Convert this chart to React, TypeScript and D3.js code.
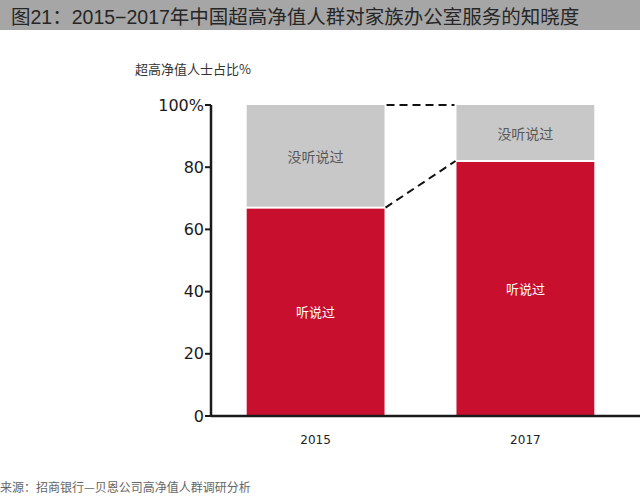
import React from "react";
import * as d3 from "d3";

const years: string[] = ["2015", "2017"];
const heard: number[] = [67, 82];
const notHeard: number[] = [33, 18];
const yTicks: number[] = [0, 20, 40, 60, 80, 100];

const title = "图21：2015−2017年中国超高净值人群对家族办公室服务的知晓度";
const yLabel = "超高净值人士占比%";
const heardLabel = "听说过";
const notHeardLabel = "没听说过";
const source = "来源：招商银行—贝恩公司高净值人群调研分析";

const W = 640;
const H = 496;
const axisX = 211;

const cjk = "'Noto Sans CJK SC', 'Noto Sans', sans-serif";
const latin = "'Liberation Sans', 'Noto Sans CJK SC', sans-serif";
const tickFont = "'DejaVu Sans', 'Noto Sans', sans-serif";

const App = () => {
  const x = d3
    .scaleBand<string>()
    .domain(years)
    .range([246.7, 594.3])
    .paddingInner(0.343)
    .paddingOuter(0);
  const y = d3.scaleLinear().domain([0, 100]).range([416, 105]);
  const bw = x.bandwidth();

  const red = "#c8102e";
  const gray = "#c8c8c8";

  // connector lines between the two bars
  const x1 = (x(years[0]) as number) + bw;
  const x2 = x(years[1]) as number;

  return (
    <svg
      width={W}
      height={H}
      style={{ position: "absolute", left: 0, top: 0, background: "#fff" }}
    >
      <rect x={0} y={0} width={W} height={30} fill="#a6a6a6" />
      <text
        x={11}
        y={23.5}
        fontSize={19.5}
        fill="#262626"
        fontFamily={latin}
      >
        {title}
      </text>

      <text x={135} y={74} fontSize={13} fill="#333" fontFamily={cjk}>
        {yLabel}
      </text>

      {years.map((yr, i) => {
        const bx = x(yr) as number;
        const top = y(heard[i] + notHeard[i]);
        const mid = y(heard[i]);
        return (
          <g key={yr}>
            <rect x={bx} y={top} width={bw} height={mid - top - 1} fill={gray} />
            <rect x={bx} y={mid + 1} width={bw} height={y(0) - mid - 1} fill={red} />
            <text
              x={bx + bw / 2}
              y={(top + mid) / 2}
              textAnchor="middle"
              dominantBaseline="central"
              fontSize={14}
              fill="#595959"
              fontFamily={cjk}
            >
              {notHeardLabel}
            </text>
            <text
              x={bx + bw / 2}
              y={(mid + y(0)) / 2}
              textAnchor="middle"
              dominantBaseline="central"
              fontSize={13}
              fill="#fff"
              fontFamily={cjk}
            >
              {heardLabel}
            </text>
            <text
              x={bx + bw / 2}
              y={440}
              textAnchor="middle"
              dominantBaseline="central"
              fontSize={12}
              fill="#222"
              fontFamily={tickFont}
            >
              {yr}
            </text>
          </g>
        );
      })}

      <line
        x1={x1 + 2}
        y1={y(100)}
        x2={x2 - 2}
        y2={y(100)}
        stroke="#111"
        strokeWidth={2}
        strokeDasharray="8,5"
      />
      <line
        x1={x1 + 1}
        y1={y(heard[0])}
        x2={x2 - 1}
        y2={y(heard[1])}
        stroke="#111"
        strokeWidth={2}
        strokeDasharray="8,5"
      />

      {/* y axis */}
      <line x1={axisX} y1={y(100)} x2={axisX} y2={y(0) + 1} stroke="#1a1a1a" strokeWidth={2.5} />
      {yTicks.map((t) => (
        <g key={t}>
          <line x1={axisX - 6} x2={axisX} y1={y(t)} y2={y(t)} stroke="#1a1a1a" strokeWidth={2} />
          <text
            x={axisX - 7}
            y={y(t)}
            textAnchor="end"
            dominantBaseline="central"
            fontSize={16}
            fill="#1a1a1a"
            fontFamily={tickFont}
          >
            {t === 100 ? "100%" : t}
          </text>
        </g>
      ))}
      {/* x axis */}
      <line x1={axisX} y1={y(0)} x2={W} y2={y(0)} stroke="#1a1a1a" strokeWidth={2.5} />

      <text x={0} y={492} fontSize={12} fill="#666" fontFamily={cjk}>
        {source}
      </text>
    </svg>
  );
};

export default App;
